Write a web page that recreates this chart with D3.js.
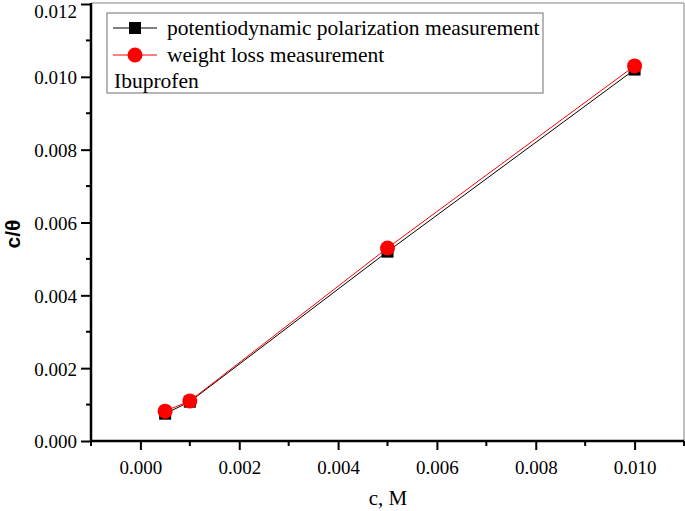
<!DOCTYPE html>
<html><head><meta charset="utf-8">
<script src="https://cdn.jsdelivr.net/npm/d3@7"></script>
<style>body{margin:0;background:#fff}svg{display:block}text{font-family:"Liberation Serif","Times New Roman",serif;fill:#000}</style>
</head><body><svg id="c" width="685" height="511"></svg>
<script>
const concentrations = [0.0005, 0.001, 0.005, 0.01];
const polarization = [0.00075, 0.00108, 0.0052, 0.0102];
const weightLoss = [0.00082, 0.0011, 0.0053, 0.0103];
const xTicks = [0.000, 0.002, 0.004, 0.006, 0.008, 0.010];
const yTicks = [0.000, 0.002, 0.004, 0.006, 0.008, 0.010, 0.012];
const seriesNames = ["potentiodynamic polarization measurement", "weight loss measurement"];
const legendTitle = "Ibuprofen";

const svg = d3.select("#c");
const L = 91, R = 684, T = 4, B = 441;
const x = d3.scaleLinear().domain([-0.001, 0.011]).range([L, R]);
const y = d3.scaleLinear().domain([0, 0.012]).range([B, T]);

// frame
svg.append("line").attr("x1", L).attr("x2", R).attr("y1", T - 1).attr("y2", T - 1).attr("stroke", "#aaa").attr("stroke-width", 1.5);
svg.append("line").attr("x1", R).attr("x2", R).attr("y1", T - 1).attr("y2", B).attr("stroke", "#aaa").attr("stroke-width", 1.5);

// x axis
const xMinor = d3.range(-0.001, 0.0115, 0.002);
const gx = svg.append("g").attr("transform", `translate(0,${B})`);
gx.call(d3.axisBottom(x).tickValues(xTicks).tickSize(9).tickPadding(11).tickFormat(d3.format(".3f")));
gx.append("g").selectAll("line").data(xMinor).join("line")
  .attr("x1", d => x(d)).attr("x2", d => x(d)).attr("y1", 0).attr("y2", 5).attr("stroke", "#000").attr("stroke-width", 2);
gx.select(".domain").attr("d", `M${L},0H${R}`).attr("stroke-width", 2.5);
gx.selectAll(".tick line").attr("stroke-width", 2);
gx.selectAll("text").style("font-size", "19px").style("font-family", "Liberation Serif");

// y axis
const yMinor = d3.range(0.001, 0.012, 0.002);
const gy = svg.append("g").attr("transform", `translate(${L},0)`);
gy.call(d3.axisLeft(y).tickValues(yTicks).tickSize(10).tickPadding(4).tickFormat(d3.format(".3f")));
gy.append("g").selectAll("line").data(yMinor).join("line")
  .attr("y1", d => y(d)).attr("y2", d => y(d)).attr("x1", 0).attr("x2", -5).attr("stroke", "#000").attr("stroke-width", 2);
gy.select(".domain").attr("d", `M0,${B}V${T - 1}`).attr("stroke-width", 2.5);
gy.selectAll(".tick line").attr("stroke-width", 2);
gy.selectAll("text").style("font-size", "19px").style("font-family", "Liberation Serif")
  .attr("dy", d => d >= 0.012 ? "0.7em" : "0.36em");

// axis titles
svg.append("text").attr("x", 388).attr("y", 505).attr("text-anchor", "middle").style("font-size", "21px").text("c, M");
svg.append("text").attr("transform", "translate(20,234) rotate(-90)").attr("text-anchor", "middle")
  .style("font-size", "21px").style("font-family", "Liberation Sans").style("font-weight", "bold").text("c/θ");

// series
const line = d3.line().x(d => x(d[0])).y(d => y(d[1]));
const s1 = concentrations.map((c, i) => [c, polarization[i]]);
const s2 = concentrations.map((c, i) => [c, weightLoss[i]]);
svg.append("path").datum(s1).attr("d", line).attr("fill", "none").attr("stroke", "#000").attr("stroke-width", 1);
svg.append("g").selectAll("rect").data(s1).join("rect")
  .attr("x", d => x(d[0]) - 6).attr("y", d => y(d[1]) - 6).attr("width", 12).attr("height", 12).attr("fill", "#000");
svg.append("path").datum(s2).attr("d", line).attr("fill", "none").attr("stroke", "#f00").attr("stroke-width", 1);
svg.append("g").selectAll("circle").data(s2).join("circle")
  .attr("cx", d => x(d[0])).attr("cy", d => y(d[1])).attr("r", 7.5).attr("fill", "#f00");

// legend
const lg = svg.append("g");
lg.append("rect").attr("x", 107).attr("y", 13).attr("width", 436).attr("height", 80).attr("fill", "#fff").attr("stroke", "#888").attr("stroke-width", 1.2);
lg.append("line").attr("x1", 113).attr("x2", 157).attr("y1", 28).attr("y2", 28).attr("stroke", "#000");
lg.append("rect").attr("x", 129).attr("y", 22).attr("width", 12).attr("height", 12).attr("fill", "#000");
lg.append("line").attr("x1", 113).attr("x2", 157).attr("y1", 55).attr("y2", 55).attr("stroke", "#f00");
lg.append("circle").attr("cx", 135).attr("cy", 55).attr("r", 7.5).attr("fill", "#f00");
lg.append("text").attr("x", 167).attr("y", 35).style("font-size", "21.5px").text(seriesNames[0]);
lg.append("text").attr("x", 167).attr("y", 62).style("font-size", "21.5px").text(seriesNames[1]);
lg.append("text").attr("x", 114).attr("y", 88).style("font-size", "21.5px").text(legendTitle);
</script></body></html>
